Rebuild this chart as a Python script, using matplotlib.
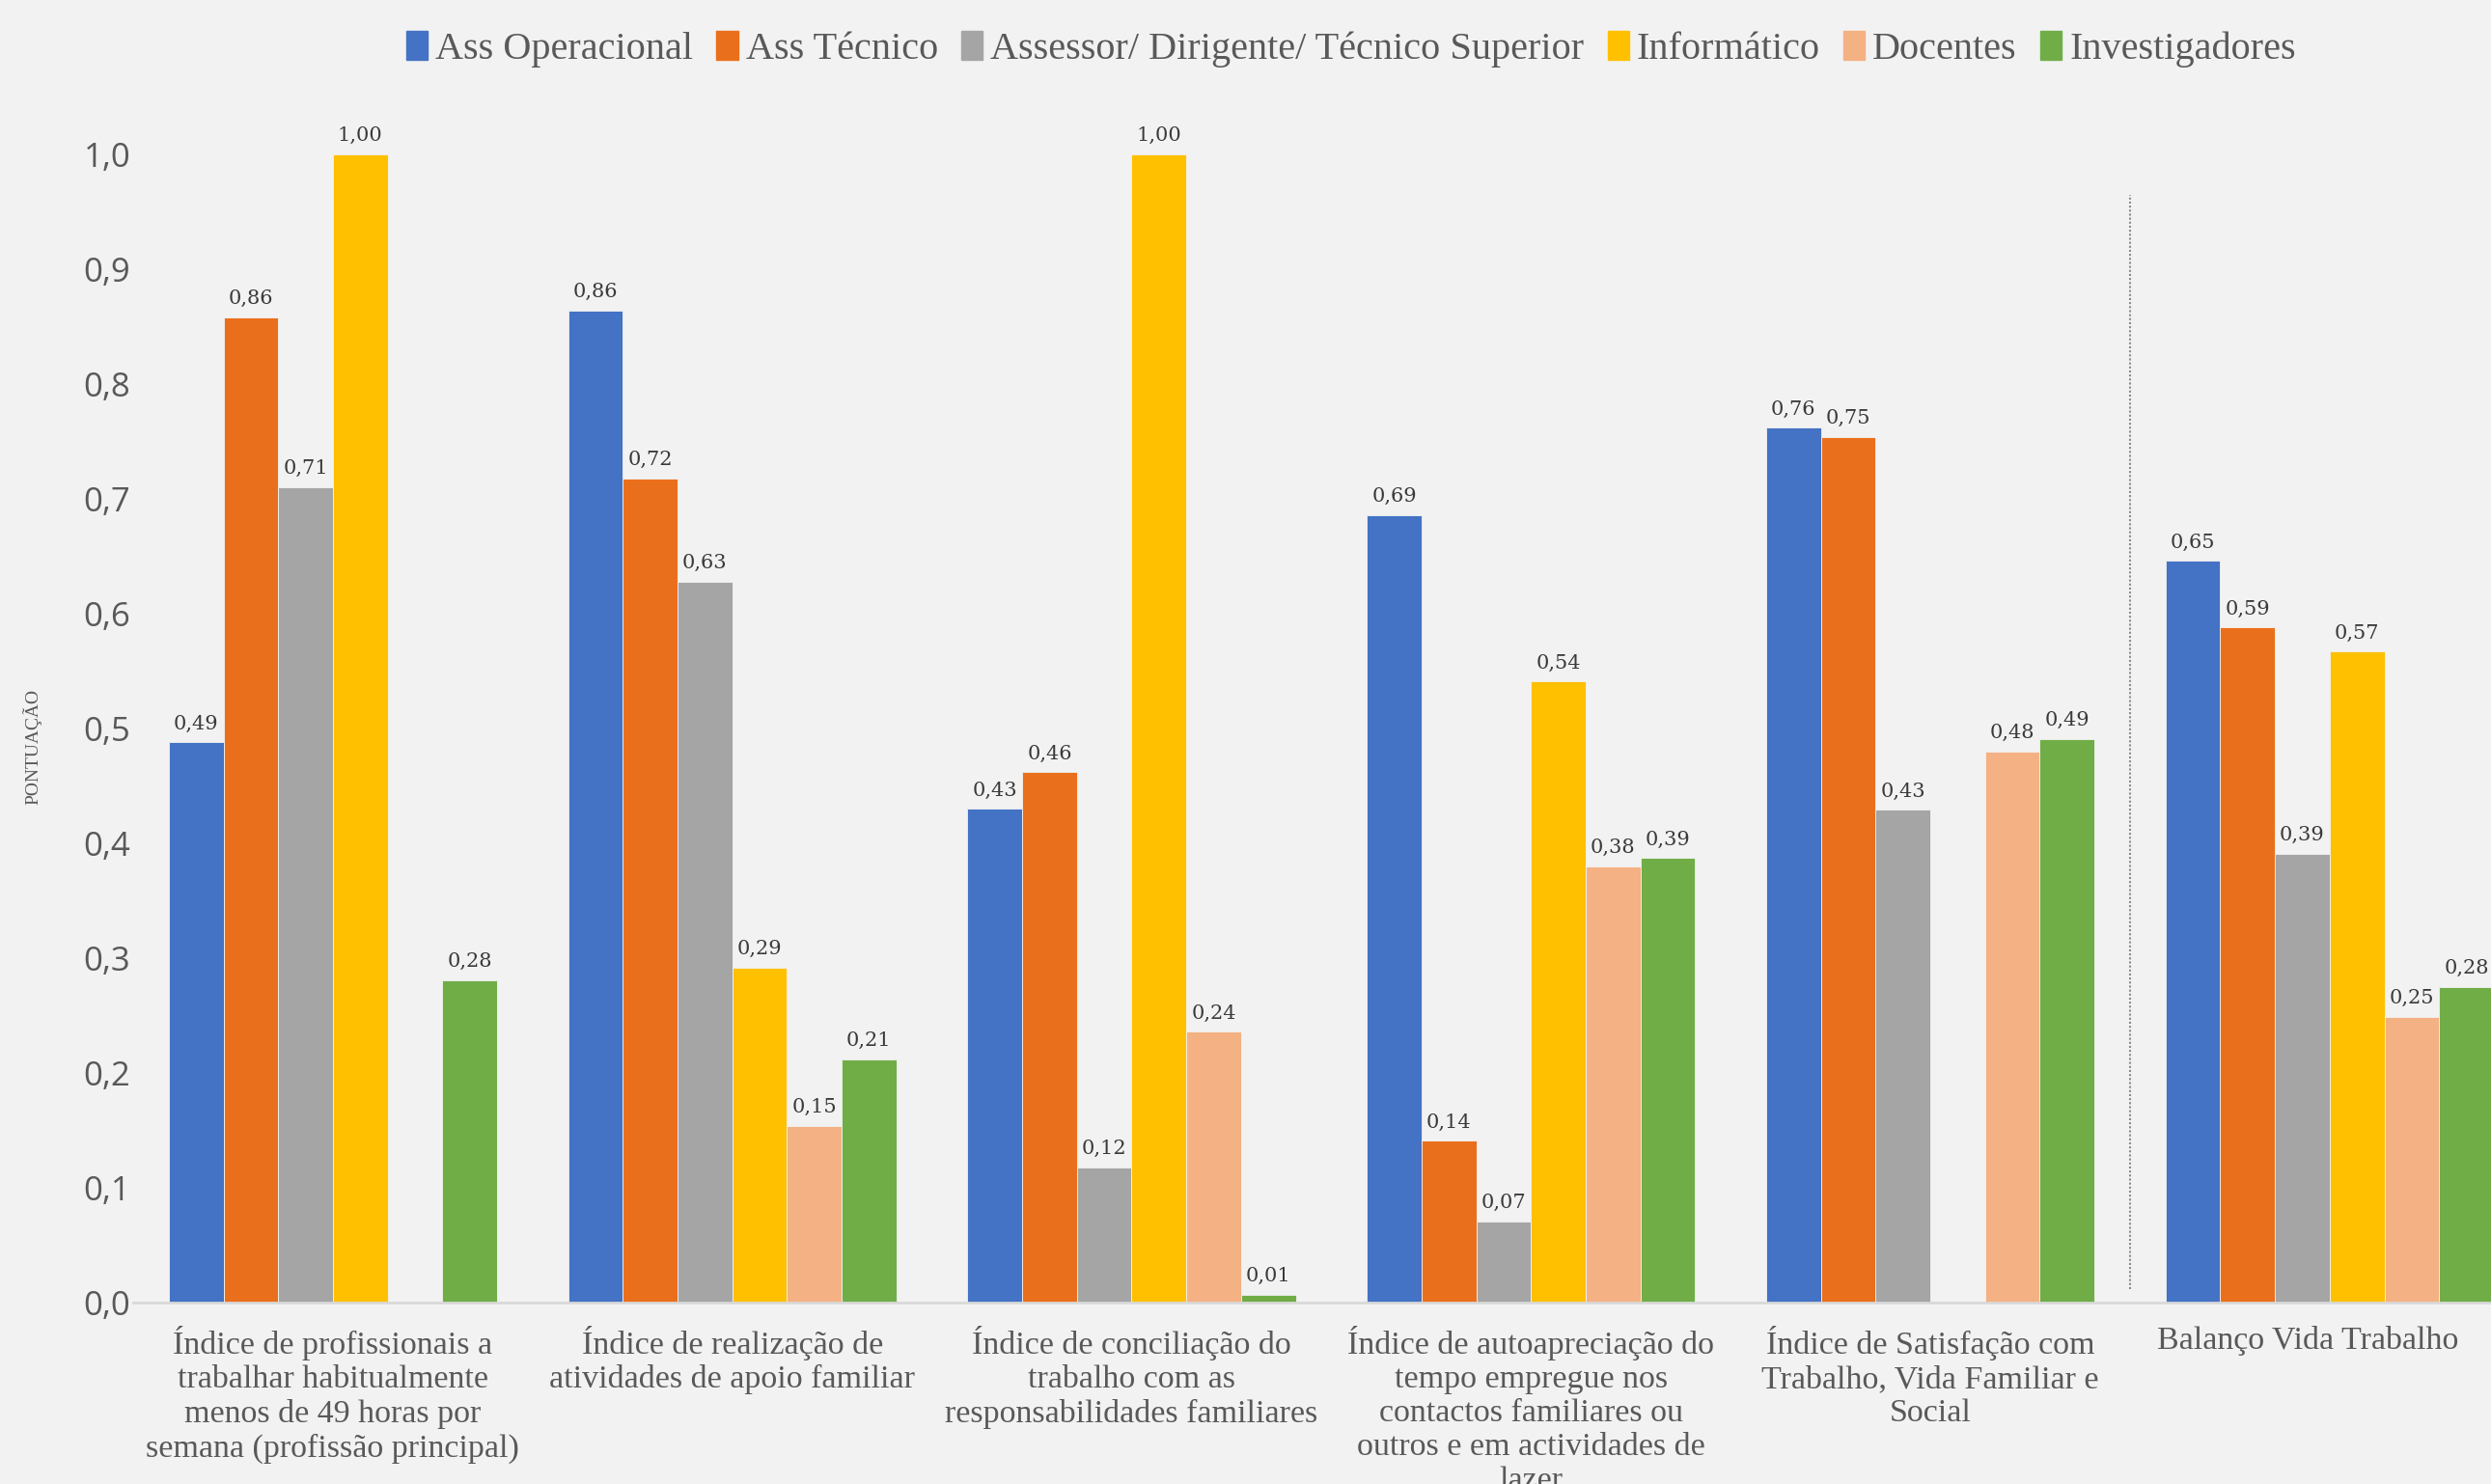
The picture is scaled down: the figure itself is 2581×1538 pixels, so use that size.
import matplotlib.pyplot as plt
import matplotlib.transforms as mtransforms
from matplotlib.patches import Rectangle
import numpy as np

# dados
categorias = [
    "Índice de profissionais a\ntrabalhar habitualmente\nmenos de 49 horas por\nsemana (profissão principal)",
    "Índice de realização de\natividades de apoio familiar",
    "Índice de conciliação do\ntrabalho com as\nresponsabilidades familiares",
    "Índice de autoapreciação do\ntempo empregue nos\ncontactos familiares ou\noutros e em actividades de\nlazer",
    "Índice de Satisfação com\nTrabalho, Vida Familiar e\nSocial",
    "Balanço Vida Trabalho",
]
series = ["Ass Operacional", "Ass Técnico", "Assessor/ Dirigente/ Técnico Superior",
          "Informático", "Docentes", "Investigadores"]
ass_operacional = [0.488, 0.864, 0.430, 0.686, 0.762, 0.646]
ass_tecnico = [0.858, 0.718, 0.462, 0.141, 0.754, 0.588]
assessor = [0.710, 0.628, 0.118, 0.071, 0.429, 0.391]
informatico = [1.000, 0.292, 1.000, 0.541, None, 0.567]
docentes = [None, 0.154, 0.236, 0.380, 0.480, 0.249]
investigadores = [0.281, 0.212, 0.007, 0.387, 0.491, 0.275]
valores = [ass_operacional, ass_tecnico, assessor, informatico, docentes, investigadores]
cores = ["#4472C4", "#EA6F1C", "#A5A5A5", "#FFC000", "#F4B183", "#70AD47"]

fundo = "#F2F2F2"
fig = plt.figure(figsize=(25.81, 15.38), dpi=100, facecolor=fundo)
ax = fig.add_axes([138 / 2581, 1 - 1350 / 1538, 1 - 138 / 2581, (1350 - 160) / 1538])
ax.set_facecolor(fundo)

x = np.arange(len(categorias))
largura = 0.137
for i, (nome, vals, cor) in enumerate(zip(series, valores, cores)):
    pos = x + (i - 2.5) * largura
    for p, v in zip(pos, vals):
        if v is None:
            continue
        ax.bar(p, v, width=largura, color=cor, edgecolor="#F2F2F2", linewidth=0.6)
        ax.annotate(f"{v:.2f}".replace(".", ","), (p, v), xytext=(0, 7),
                    textcoords="offset points", ha="center", va="bottom",
                    fontsize=15, family="DejaVu Serif", color="#3A3A3A",
                    annotation_clip=False)

# linha separadora
ax.vlines(4.5, 0.012, 0.965, colors="#8C8C8C", linestyles=(0, (1, 1)), linewidth=1.5)

ax.set_xlim(-0.5, 5.404)
ax.set_ylim(0, 1.0)
ax.set_yticks(np.arange(0, 1.01, 0.1))
ax.set_yticklabels([f"{t:.1f}".replace(".", ",") for t in np.arange(0, 1.01, 0.1)],
                   fontsize=25, family="Open Sans", color="#595959")
ax.set_xticks(x)
ax.set_xticklabels(categorias, fontsize=24.5, family="Liberation Serif", color="#595959",
                   linespacing=1.2)
ax.tick_params(axis="y", length=0, pad=2)
ax.tick_params(axis="x", length=0, pad=17)
for s in ["top", "right", "left"]:
    ax.spines[s].set_visible(False)
ax.spines["bottom"].set_color("#D9D9D9")
ax.spines["bottom"].set_linewidth(2)

# o último rótulo está ligeiramente deslocado para a esquerda
ultimo = ax.get_xticklabels()[-1]
ultimo.set_transform(ultimo.get_transform() +
                     mtransforms.ScaledTranslation(-23 / 100, 0, fig.dpi_scale_trans))

fig.text(33 / 2581, 1 - 774 / 1538, "PONTUAÇÃO", rotation=90, ha="center", va="center",
         fontsize=14, family="Liberation Serif", color="#595959")

handles = [Rectangle((0, 0), 1, 1, color=c) for c in cores]
leg = fig.legend(handles, series, loc="center", bbox_to_anchor=(1400 / 2581, 1 - 51 / 1538),
                 ncol=6, frameon=False, handlelength=0.55, handleheight=0.75,
                 handletextpad=0.2, columnspacing=0.6,
                 prop={"family": "Liberation Serif", "size": 29})
for t in leg.get_texts():
    t.set_color("#595959")

fig.savefig("out.png", dpi=100, facecolor=fundo)
